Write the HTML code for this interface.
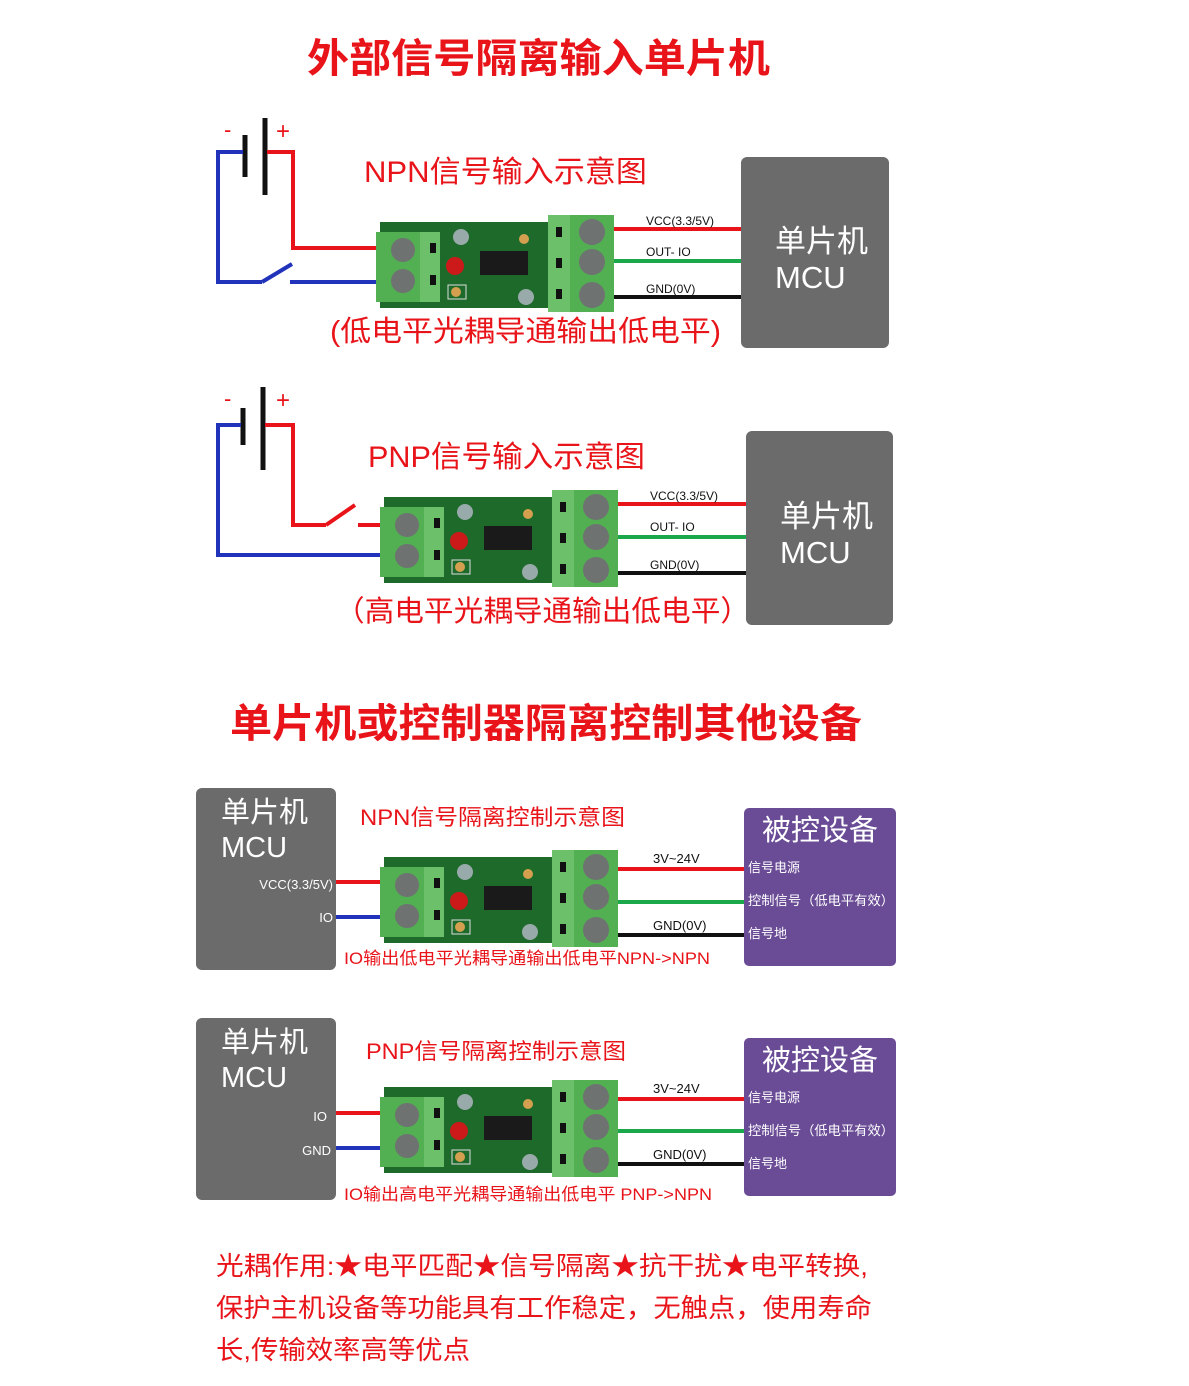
<!DOCTYPE html>
<html><head><meta charset="utf-8"><style>
html,body{margin:0;padding:0;background:#fff;}
svg{display:block;font-family:"Liberation Sans","Noto Sans CJK SC",sans-serif;}
</style></head><body>
<svg width="1189" height="1386" viewBox="0 0 1189 1386" xmlns="http://www.w3.org/2000/svg">
<defs>
<g id="mod">
  <rect x="4" y="7" width="176" height="86" fill="#1d6a2a"/>
  <circle cx="85" cy="22" r="8" fill="#9aa"/>
  <circle cx="150" cy="82" r="8" fill="#9aa"/>
  <rect x="0" y="17" width="64" height="70" fill="#52b052"/>
  <rect x="44" y="17" width="20" height="70" fill="#6cc06a"/>
  <circle cx="27" cy="35" r="12" fill="#6e7270"/>
  <circle cx="27" cy="66" r="12" fill="#6e7270"/>
  <rect x="54" y="28" width="6" height="10" fill="#111"/>
  <rect x="54" y="60" width="6" height="10" fill="#111"/>
  <rect x="104" y="36" width="48" height="24" fill="#1a1a1a"/>
  <circle cx="79" cy="51" r="9" fill="#cc1a1a"/>
  <rect x="72" y="70" width="18" height="14" fill="none" stroke="#ddd" stroke-width="1"/>
  <circle cx="80" cy="77" r="5" fill="#d4a050"/>
  <circle cx="148" cy="24" r="5" fill="#d4a050"/>
  <rect x="172" y="0" width="66" height="97" fill="#52b052"/>
  <rect x="172" y="0" width="22" height="97" fill="#6cc06a"/>
  <rect x="180" y="12" width="6" height="10" fill="#111"/>
  <rect x="180" y="43" width="6" height="10" fill="#111"/>
  <rect x="180" y="74" width="6" height="10" fill="#111"/>
  <circle cx="216" cy="17" r="13" fill="#6e7270"/>
  <circle cx="216" cy="47" r="13" fill="#6e7270"/>
  <circle cx="216" cy="80" r="13" fill="#6e7270"/>
</g>
</defs>

<text x="307" y="72" font-size="40" font-weight="bold" fill="#e8141a" textLength="463" lengthAdjust="spacingAndGlyphs">外部信号隔离输入单片机</text>

<!-- Diagram 1 -->
<g stroke-width="4" fill="none">
  <line x1="265" y1="118" x2="265" y2="195" stroke="#111" stroke-width="5"/>
  <line x1="245" y1="135" x2="245" y2="177" stroke="#111" stroke-width="5"/>
  <polyline points="267,152 293,152 293,248 378,248" stroke="#e8141a"/>
  <polyline points="243,152 218,152 218,282 262,282" stroke="#2233bb"/>
  <line x1="262" y1="282" x2="292" y2="264" stroke="#2233bb"/>
  <line x1="290" y1="282" x2="378" y2="282" stroke="#2233bb"/>
  <line x1="612" y1="229" x2="742" y2="229" stroke="#e8141a"/>
  <line x1="612" y1="261" x2="742" y2="261" stroke="#1aa84a"/>
  <line x1="612" y1="297" x2="742" y2="297" stroke="#111"/>
</g>
<text x="224" y="137" font-size="22" fill="#e8141a">-</text>
<text x="276" y="139" font-size="24" fill="#e8141a">+</text>
<text x="364" y="182" font-size="30" fill="#e8141a" textLength="283" lengthAdjust="spacingAndGlyphs">NPN信号输入示意图</text>
<use href="#mod" x="376" y="215"/>
<text x="646" y="225" font-size="12" fill="#111">VCC(3.3/5V)</text>
<text x="646" y="256" font-size="12" fill="#111">OUT- IO</text>
<text x="646" y="293" font-size="12" fill="#111">GND(0V)</text>
<rect x="741" y="157" width="148" height="191" rx="6" fill="#6b6b6b"/>
<text x="775" y="252" font-size="31" fill="#fff">单片机</text>
<text x="775" y="288" font-size="31" fill="#fff">MCU</text>
<text x="330" y="341" font-size="29" fill="#e8141a" textLength="391" lengthAdjust="spacingAndGlyphs">(低电平光耦导通输出低电平)</text>

<!-- Diagram 2 -->
<g stroke-width="4" fill="none">
  <line x1="263" y1="387" x2="263" y2="470" stroke="#111" stroke-width="5"/>
  <line x1="243" y1="408" x2="243" y2="445" stroke="#111" stroke-width="5"/>
  <polyline points="265,425 293,425 293,525 326,525" stroke="#e8141a"/>
  <line x1="326" y1="525" x2="355" y2="505" stroke="#e8141a"/>
  <line x1="358" y1="525" x2="380" y2="525" stroke="#e8141a"/>
  <polyline points="241,425 218,425 218,555 380,555" stroke="#2233bb"/>
  <line x1="616" y1="504" x2="746" y2="504" stroke="#e8141a"/>
  <line x1="616" y1="537" x2="746" y2="537" stroke="#1aa84a"/>
  <line x1="616" y1="573" x2="746" y2="573" stroke="#111"/>
</g>
<text x="224" y="406" font-size="22" fill="#e8141a">-</text>
<text x="276" y="408" font-size="24" fill="#e8141a">+</text>
<text x="368" y="467" font-size="30" fill="#e8141a" textLength="277" lengthAdjust="spacingAndGlyphs">PNP信号输入示意图</text>
<use href="#mod" x="380" y="490"/>
<text x="650" y="500" font-size="12" fill="#111">VCC(3.3/5V)</text>
<text x="650" y="531" font-size="12" fill="#111">OUT- IO</text>
<text x="650" y="569" font-size="12" fill="#111">GND(0V)</text>
<rect x="746" y="431" width="147" height="194" rx="6" fill="#6b6b6b"/>
<text x="780" y="527" font-size="31" fill="#fff">单片机</text>
<text x="780" y="563" font-size="31" fill="#fff">MCU</text>
<text x="335" y="621" font-size="29" fill="#e8141a" textLength="415" lengthAdjust="spacingAndGlyphs">（高电平光耦导通输出低电平）</text>

<text x="230" y="737" font-size="40" font-weight="bold" fill="#e8141a" textLength="632" lengthAdjust="spacingAndGlyphs">单片机或控制器隔离控制其他设备</text>

<!-- Diagram 3 -->
<rect x="196" y="788" width="140" height="182" rx="6" fill="#6b6b6b"/>
<text x="221" y="822" font-size="29" fill="#fff">单片机</text>
<text x="221" y="857" font-size="29" fill="#fff">MCU</text>
<text x="333" y="889" font-size="13" fill="#fff" text-anchor="end">VCC(3.3/5V)</text>
<text x="333" y="922" font-size="13" fill="#fff" text-anchor="end">IO</text>
<g stroke-width="4">
  <line x1="336" y1="882" x2="390" y2="882" stroke="#e8141a"/>
  <line x1="336" y1="917" x2="390" y2="917" stroke="#2233bb"/>
  <line x1="612" y1="869" x2="744" y2="869" stroke="#e8141a"/>
  <line x1="612" y1="902" x2="744" y2="902" stroke="#1aa84a"/>
  <line x1="612" y1="935" x2="744" y2="935" stroke="#111"/>
</g>
<text x="360" y="825" font-size="22" fill="#e8141a" textLength="265" lengthAdjust="spacingAndGlyphs">NPN信号隔离控制示意图</text>
<use href="#mod" x="380" y="850"/>
<text x="653" y="863" font-size="13" fill="#111">3V~24V</text>
<text x="653" y="930" font-size="13" fill="#111">GND(0V)</text>
<rect x="744" y="808" width="152" height="158" rx="5" fill="#6a4b96"/>
<text x="762" y="840" font-size="29" fill="#fff">被控设备</text>
<text x="748" y="872" font-size="13" fill="#fff">信号电源</text>
<text x="748" y="905" font-size="13" fill="#fff" textLength="146" lengthAdjust="spacingAndGlyphs">控制信号（低电平有效）</text>
<text x="748" y="938" font-size="13" fill="#fff">信号地</text>
<text x="344" y="964" font-size="17" fill="#e8141a" textLength="366" lengthAdjust="spacingAndGlyphs">IO输出低电平光耦导通输出低电平NPN-&gt;NPN</text>

<!-- Diagram 4 -->
<rect x="196" y="1018" width="140" height="182" rx="6" fill="#6b6b6b"/>
<text x="221" y="1052" font-size="29" fill="#fff">单片机</text>
<text x="221" y="1087" font-size="29" fill="#fff">MCU</text>
<text x="327" y="1121" font-size="13" fill="#fff" text-anchor="end">IO</text>
<text x="331" y="1155" font-size="13" fill="#fff" text-anchor="end">GND</text>
<g stroke-width="4">
  <line x1="336" y1="1113" x2="390" y2="1113" stroke="#e8141a"/>
  <line x1="336" y1="1148" x2="390" y2="1148" stroke="#2233bb"/>
  <line x1="612" y1="1099" x2="744" y2="1099" stroke="#e8141a"/>
  <line x1="612" y1="1131" x2="744" y2="1131" stroke="#1aa84a"/>
  <line x1="612" y1="1164" x2="744" y2="1164" stroke="#111"/>
</g>
<text x="366" y="1059" font-size="22" fill="#e8141a" textLength="260" lengthAdjust="spacingAndGlyphs">PNP信号隔离控制示意图</text>
<use href="#mod" x="380" y="1080"/>
<text x="653" y="1093" font-size="13" fill="#111">3V~24V</text>
<text x="653" y="1159" font-size="13" fill="#111">GND(0V)</text>
<rect x="744" y="1038" width="152" height="158" rx="5" fill="#6a4b96"/>
<text x="762" y="1070" font-size="29" fill="#fff">被控设备</text>
<text x="748" y="1102" font-size="13" fill="#fff">信号电源</text>
<text x="748" y="1135" font-size="13" fill="#fff" textLength="146" lengthAdjust="spacingAndGlyphs">控制信号（低电平有效）</text>
<text x="748" y="1168" font-size="13" fill="#fff">信号地</text>
<text x="344" y="1200" font-size="17" fill="#e8141a" textLength="368" lengthAdjust="spacingAndGlyphs">IO输出高电平光耦导通输出低电平 PNP-&gt;NPN</text>

<text x="216" y="1275" font-size="26" fill="#e8141a" textLength="652" lengthAdjust="spacingAndGlyphs">光耦作用:★电平匹配★信号隔离★抗干扰★电平转换,</text>
<text x="216" y="1317" font-size="26" fill="#e8141a" textLength="656" lengthAdjust="spacingAndGlyphs">保护主机设备等功能具有工作稳定，无触点，使用寿命</text>
<text x="216" y="1359" font-size="26" fill="#e8141a" textLength="254" lengthAdjust="spacingAndGlyphs">长,传输效率高等优点</text>
</svg>
</body></html>
